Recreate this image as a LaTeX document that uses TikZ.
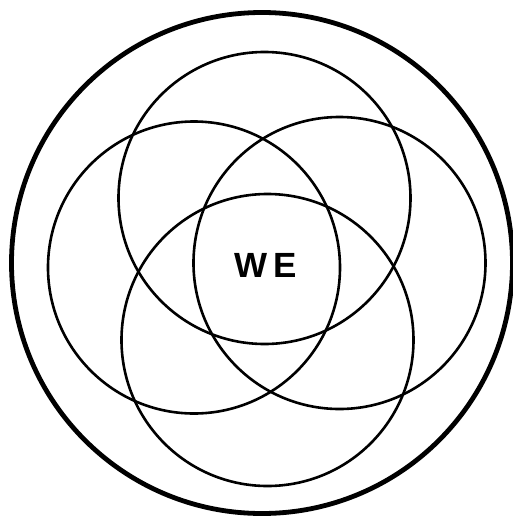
\documentclass[tikz,border=0pt]{standalone}
\usepackage{fontspec}
\setsansfont{Liberation Sans}
\usetikzlibrary{positioning}
\tikzset{
  ring/.style={draw, circle, line width=2.6pt, inner sep=0pt, minimum size=292pt},
  world/.style={draw, circle, line width=4.8pt, inner sep=0pt, minimum size=501pt}
}

\begin{document}
\begin{tikzpicture}[x=1pt, y=-1pt, every node/.style={font=\sffamily}]
    \useasboundingbox (0,0) rectangle (512,517);
    \node[world] (all) at (262,263) {};
    \node[ring] (upper) at (264.5,198) {};
    \node[ring] (lefty) at (194,267.5) {};
    \node[ring] (righty) at (339.5,263) {};
    \node[ring] (lower) at (267.5,340) {};
    \node[font=\sffamily\bfseries\fontsize{35}{35}\selectfont] (we) at (266,265) {W\,E};
  \end{tikzpicture}
\end{document}
